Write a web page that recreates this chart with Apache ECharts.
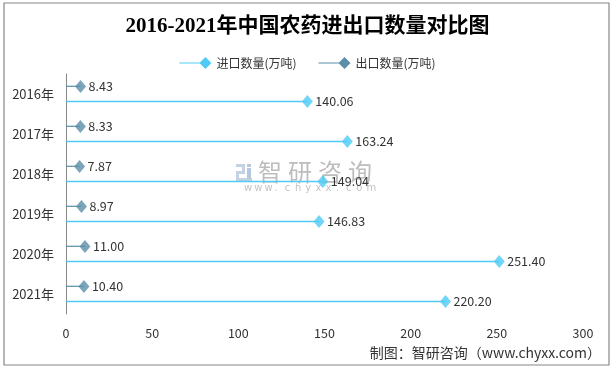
<!DOCTYPE html>
<html>
<head>
<meta charset="utf-8">
<script src="https://cdn.jsdelivr.net/npm/echarts@6/dist/echarts.min.js"></script>
<style>html,body{margin:0;padding:0;background:#fff}#c{width:615px;height:370px}</style>
</head>
<body>
<div id="c"></div>
<script>
const categories = ['2016年','2017年','2018年','2019年','2020年','2021年'];
const importValues = [140.06, 163.24, 149.04, 146.83, 251.40, 220.20];
const exportValues = [8.43, 8.33, 7.87, 8.97, 11.00, 10.40];
const xTicks = [0, 50, 100, 150, 200, 250, 300];
const seriesNames = ['进口数量(万吨)', '出口数量(万吨)'];

const importColor = '#4fcbf6';
const exportColor = '#5b8ea9';
const font = '"Noto Sans CJK SC","Noto Sans",sans-serif';
const legendIcon = 'path://M0,5.4L22,5.4L22,6.6L0,6.6Z M26,0L32,6L26,12L20,6Z';

const chart = echarts.init(document.getElementById('c'), null, {renderer: 'canvas'});
const fmt = p => Number(p.value).toFixed(2);

// watermark characters, spaced out individually
const wmGraphics = [];
Array.from('智研咨询').forEach((ch, i) => {
  wmGraphics.push({type: 'text', left: 258 + i * 30, top: 160, silent: true, z: 0,
    style: {text: ch, font: '24px "Noto Sans CJK SC"', fill: '#bdbdbd'}});
});
Array.from('www.chyxx.com').forEach((ch, i) => {
  wmGraphics.push({type: 'text', left: 244 + i * 10.2, top: 183, silent: true, z: 0,
    style: {text: ch, font: '10px "DejaVu Sans"', fill: '#c4c4c4'}});
});

chart.setOption({
  animation: false,
  backgroundColor: '#fff',
  title: {
    text: '2016-2021年中国农药进出口数量对比图',
    left: 'center', top: 11,
    textStyle: {fontFamily: '"Liberation Serif","Noto Sans CJK SC",serif', fontSize: 21, fontWeight: 'bold', color: '#000'}
  },
  legend: {
    top: 52, left: 'center',
    itemWidth: 32, itemHeight: 12, itemGap: 22,
    textStyle: {fontFamily: font, fontSize: 12, color: '#333'},
    data: [
      {name: seriesNames[0], icon: legendIcon, itemStyle: {color: importColor}},
      {name: seriesNames[1], icon: legendIcon, itemStyle: {color: exportColor}}
    ]
  },
  grid: {left: 66, right: 32, top: 74, bottom: 56},
  xAxis: {
    type: 'value', min: 0, max: 300, interval: 50,
    axisLine: {show: false}, axisTick: {show: false}, splitLine: {show: false},
    axisLabel: {fontFamily: font, fontSize: 12.5, color: '#333', margin: 13,
      formatter: v => xTicks.includes(v) ? String(v) : ''}
  },
  yAxis: {
    type: 'category', data: categories, inverse: true,
    axisLine: {show: true, lineStyle: {color: '#888', width: 1}},
    axisTick: {show: false},
    axisLabel: {fontFamily: font, fontSize: 13, color: '#333', margin: 12}
  },
  series: [
    {
      name: seriesNames[1], type: 'bar', data: exportValues,
      barWidth: 1.2, barGap: '1150%', barCategoryGap: '60%',
      itemStyle: {color: exportColor},
      label: {show: true, position: 'right', distance: 8, formatter: fmt,
        fontFamily: font, fontSize: 12.5, color: '#333'}
    },
    {
      name: seriesNames[0], type: 'bar', data: importValues,
      barWidth: 1.6, barGap: '1150%',
      itemStyle: {color: importColor},
      label: {show: true, position: 'right', distance: 8, formatter: fmt,
        fontFamily: font, fontSize: 12.5, color: '#333'}
    },
    {
      name: seriesNames[1], type: 'scatter', data: exportValues,
      symbol: 'diamond', symbolSize: [11, 13], symbolOffset: [0, -7.5],
      itemStyle: {color: exportColor}, z: 3
    },
    {
      name: seriesNames[0], type: 'scatter', data: importValues,
      symbol: 'diamond', symbolSize: [11, 13], symbolOffset: [0, 7.5],
      itemStyle: {color: importColor}, z: 3
    }
  ],
  graphic: [
    {type: 'rect', shape: {x: 4, y: 3, width: 605, height: 362},
      style: {fill: 'none', stroke: '#888', lineWidth: 1.2}, silent: true, z: 0},
    {type: 'group', left: 236, top: 164, silent: true, z: 0, children: [
      {type: 'rect', shape: {x: 0, y: 0, width: 9, height: 3}, style: {fill: '#c5d2e2'}},
      {type: 'rect', shape: {x: 6, y: 0, width: 3, height: 9}, style: {fill: '#c5d2e2'}},
      {type: 'rect', shape: {x: 0, y: 7, width: 9, height: 3}, style: {fill: '#c5d2e2'}},
      {type: 'rect', shape: {x: 0, y: 7, width: 3, height: 10}, style: {fill: '#c5d2e2'}},
      {type: 'rect', shape: {x: 0, y: 14, width: 16, height: 3}, style: {fill: '#c5d2e2'}},
      {type: 'rect', shape: {x: 11, y: 4, width: 4, height: 11}, style: {fill: '#b6c8dc'}},
      {type: 'rect', shape: {x: 11, y: 0, width: 4, height: 3}, style: {fill: '#b6c8dc'}}
    ]}
  ].concat(wmGraphics, [
    {type: 'text', right: 14, top: 346, silent: true,
      style: {text: '制图：智研咨询（www.chyxx.com）', font: '14px "Noto Sans CJK SC"', fill: '#333'}}
  ])
});
</script>
</body>
</html>
